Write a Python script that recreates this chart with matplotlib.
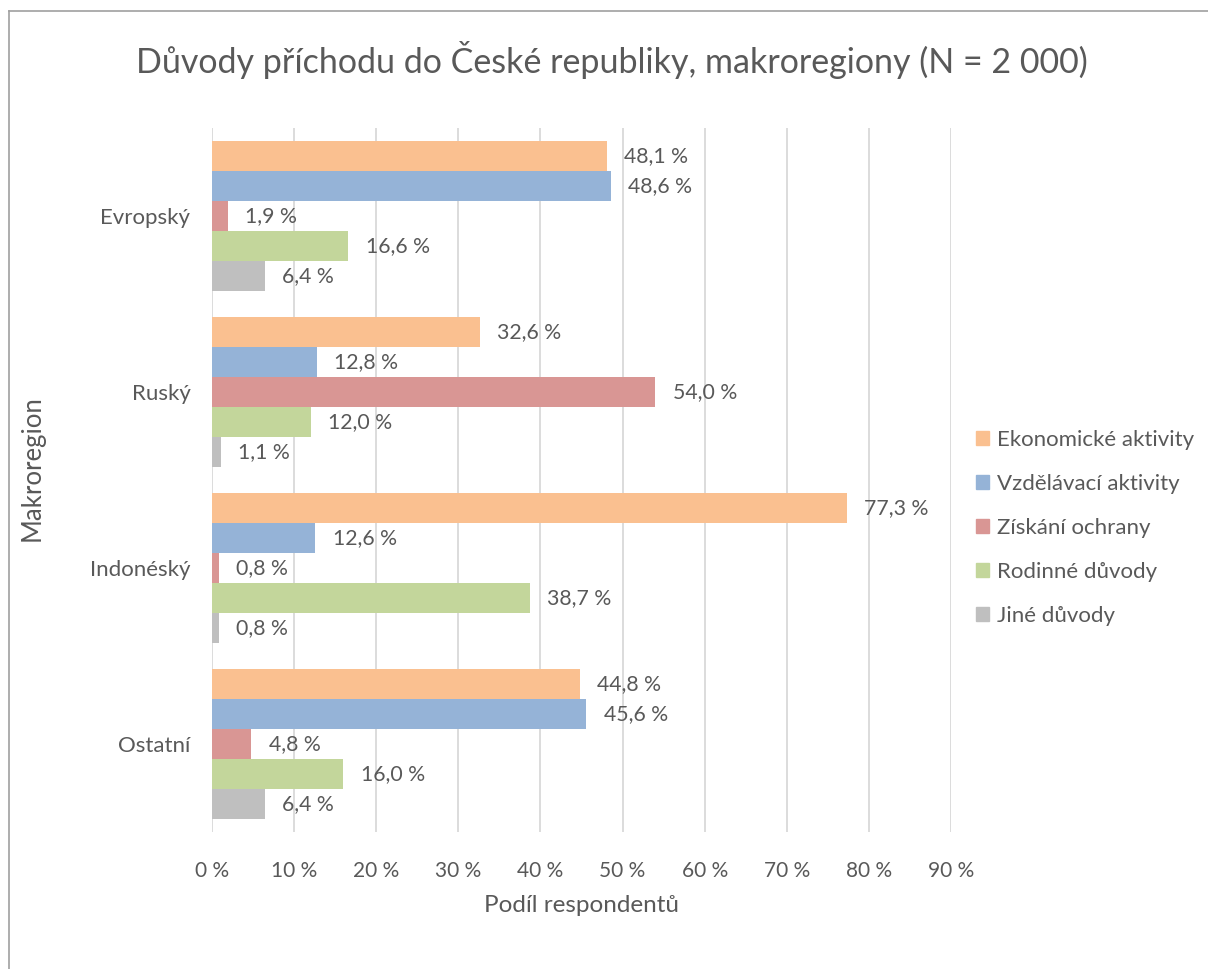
import matplotlib
matplotlib.use("Agg")
import matplotlib.pyplot as plt
from matplotlib.lines import Line2D
import numpy as np

plt.rcParams['font.family'] = ['Lato', 'DejaVu Sans']

categories = ["Evropský", "Ruský", "Indonéský", "Ostatní"]
series = ["Ekonomické aktivity", "Vzdělávací aktivity", "Získání ochrany",
          "Rodinné důvody", "Jiné důvody"]
values = {
    "Ekonomické aktivity": [48.1, 32.6, 77.3, 44.8],
    "Vzdělávací aktivity": [48.6, 12.8, 12.6, 45.6],
    "Získání ochrany": [1.9, 54.0, 0.8, 4.8],
    "Rodinné důvody": [16.6, 12.0, 38.7, 16.0],
    "Jiné důvody": [6.4, 1.1, 0.8, 6.4],
}
colors = ["#FAC090", "#95B3D7", "#D99694", "#C3D69B", "#BFBFBF"]
xticks = [0, 10, 20, 30, 40, 50, 60, 70, 80, 90]
xtick_labels = ["0 %", "10 %", "20 %", "30 %", "40 %", "50 %", "60 %", "70 %", "80 %", "90 %"]

TXT = "#595959"
W, H = 1208, 969
fig = plt.figure(figsize=(W / 100, H / 100), dpi=100)
ax = fig.add_axes([212 / W, 1 - 832 / H, (951 - 212) / W, (832 - 128) / H])

h = 30 / 176
y = np.arange(len(categories))
for j, s in enumerate(series):
    pos = y + (j - 2) * h
    bars = ax.barh(pos, values[s], height=h, color=colors[j], label=s, zorder=3)
    for b, v in zip(bars, values[s]):
        ax.annotate(f"{v:.1f} %".replace(".", ","), (v, b.get_y() + b.get_height() / 2),
                    xytext=(12.5, 0), textcoords="offset points", va="center", ha="left",
                    fontsize=15.3, color=TXT)

ax.set_xlim(0, 90)
ax.set_ylim(len(categories) - 0.5, -0.5)
ax.set_xticks(xticks)
ax.set_xticklabels(xtick_labels)
ax.set_yticks(y)
ax.set_yticklabels(categories)
ax.tick_params(axis='x', length=0, pad=21, labelsize=15, labelcolor=TXT)
ax.tick_params(axis='y', length=0, pad=15.5, labelsize=16, labelcolor=TXT)
ax.grid(axis='x', color="#D9D9D9", linewidth=1.3, zorder=0)
for sp in ax.spines.values():
    sp.set_visible(False)

ax.set_xlabel("Podíl respondentů", fontsize=17.5, color=TXT, labelpad=10)
ax.set_ylabel("Makroregion", fontsize=18.5, color=TXT)
ax.yaxis.set_label_coords((45 - 212) / 739, (832 - 468) / 704)
fig.text(612 / W, 1 - 60 / H, "Důvody příchodu do České republiky, makroregiony (N = 2 000)",
         ha="center", va="center", fontsize=24.5, color=TXT)

handles = [plt.Rectangle((0, 0), 1, 1, color=c) for c in colors]
leg = fig.legend(handles, series, loc="center left", bbox_to_anchor=(956 / W, 1 - 528 / H),
                 frameon=False, fontsize=16, handlelength=0.6, handleheight=0.6,
                 handletextpad=0.35, labelspacing=1.08, labelcolor=TXT)

# chart border (left and top visible)
fig.add_artist(Line2D([9 / W, 9 / W], [0, 1 - 11 / H], color="#A0A0A0", lw=1.2))
fig.add_artist(Line2D([9 / W, 1], [1 - 11 / H, 1 - 11 / H], color="#A0A0A0", lw=1.2))

fig.savefig("out.png", dpi=100)
